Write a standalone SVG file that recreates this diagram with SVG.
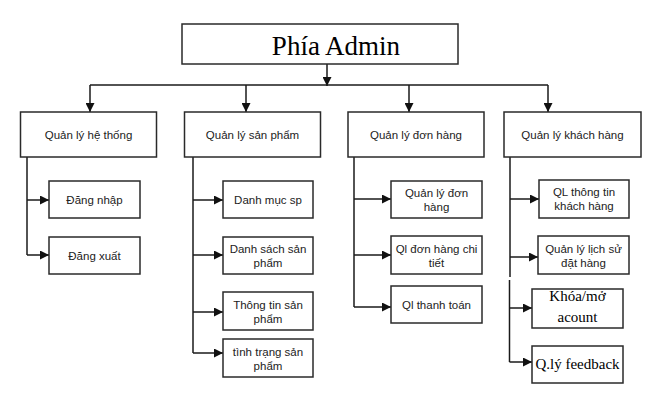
<svg xmlns="http://www.w3.org/2000/svg" width="666" height="417" viewBox="0 0 666 417">
<defs>
<marker id="ah" markerUnits="userSpaceOnUse" markerWidth="9" markerHeight="9" refX="9" refY="4.5" orient="auto">
<path d="M0,0 L9,4.5 L0,9 z" fill="#111"/>
</marker>
<style>
.box{fill:#fff;stroke:#2a2a2a;stroke-width:1.5}
.ln{fill:none;stroke:#1a1a1a;stroke-width:1.5}
.ar{fill:none;stroke:#1a1a1a;stroke-width:1.5;marker-end:url(#ah)}
.s{font-family:"Liberation Sans",Arial,sans-serif;font-size:11.5px;fill:#222;text-anchor:middle}
.t{font-family:"Liberation Serif","Times New Roman",serif;fill:#000;text-anchor:middle}
</style>
</defs>
<rect width="666" height="417" fill="#fff"/>
<g id="connectors">
<line class="ar" x1="327" y1="64" x2="327" y2="86"/>
<line class="ln" x1="90" y1="85" x2="548" y2="85"/>
<line class="ar" x1="90" y1="85" x2="90" y2="112"/>
<line class="ar" x1="246" y1="85" x2="246" y2="112"/>
<line class="ar" x1="409" y1="85" x2="409" y2="112"/>
<line class="ar" x1="548" y1="85" x2="548" y2="112"/>
<line class="ln" x1="27" y1="157" x2="27" y2="255"/>
<line class="ar" x1="27" y1="200" x2="49" y2="200"/>
<line class="ar" x1="27" y1="255" x2="49" y2="255"/>
<line class="ln" x1="193" y1="157" x2="193" y2="353"/>
<line class="ar" x1="193" y1="200" x2="223" y2="200"/>
<line class="ar" x1="193" y1="255" x2="223" y2="255"/>
<line class="ar" x1="193" y1="312" x2="223" y2="312"/>
<line class="ar" x1="193" y1="353" x2="223" y2="353"/>
<line class="ln" x1="354" y1="157" x2="354" y2="307"/>
<line class="ar" x1="354" y1="199" x2="391" y2="199"/>
<line class="ar" x1="354" y1="255" x2="391" y2="255"/>
<line class="ar" x1="354" y1="307" x2="391" y2="307"/>
<line class="ln" x1="510" y1="157" x2="510" y2="277"/>
<line class="ln" x1="509.5" y1="280" x2="509.5" y2="362"/>
<line class="ar" x1="510" y1="199" x2="539" y2="199"/>
<line class="ar" x1="510" y1="257" x2="538" y2="257"/>
<line class="ar" x1="509.5" y1="308" x2="532" y2="308"/>
<line class="ar" x1="509.5" y1="362" x2="532" y2="362"/>
</g>
<g id="root"><rect class="box" x="182" y="24" width="276" height="40"/><text class="t" x="336" y="55" font-size="27">Phía Admin</text></g>
<g id="qlht"><rect class="box" x="20.5" y="112" width="136" height="45"/><text class="s" x="88.5" y="138.5">Quản lý hệ thống</text></g>
<g id="qlsp"><rect class="box" x="184.5" y="112" width="136" height="45"/><text class="s" x="252.5" y="138.5">Quản lý sản phẩm</text></g>
<g id="qldh"><rect class="box" x="348" y="112" width="136" height="45"/><text class="s" x="416" y="138.5">Quản lý đơn hàng</text></g>
<g id="qlkh"><rect class="box" x="504" y="112" width="137" height="45"/><text class="s" x="572.5" y="138.5">Quản lý khách hàng</text></g>
<g id="dangnhap"><rect class="box" x="49" y="181" width="91" height="37"/><text class="s" x="94.5" y="204">Đăng nhập</text></g>
<g id="dangxuat"><rect class="box" x="49" y="237" width="91" height="37"/><text class="s" x="94.5" y="259.5">Đăng xuất</text></g>
<g id="danhmuc"><rect class="box" x="223" y="181" width="90" height="37"/><text class="s" x="268" y="204">Danh mục sp</text></g>
<g id="danhsach"><rect class="box" x="223" y="237" width="90" height="37"/><text class="s" x="268" y="253">Danh sách sản</text><text class="s" x="268" y="267">phẩm</text></g>
<g id="thongtin"><rect class="box" x="223" y="292" width="90" height="38"/><text class="s" x="268" y="309">Thông tin sản</text><text class="s" x="268" y="323">phẩm</text></g>
<g id="tinhtrang"><rect class="box" x="223" y="339" width="90" height="38"/><text class="s" x="268" y="356">tình trạng sản</text><text class="s" x="268" y="370">phẩm</text></g>
<g id="qldonhang"><rect class="box" x="391" y="181" width="91" height="37"/><text class="s" x="436.5" y="197">Quản lý đơn</text><text class="s" x="436.5" y="211">hàng</text></g>
<g id="qlchitiet"><rect class="box" x="391" y="236" width="91" height="38"/><text class="s" x="436.5" y="253">Ql đơn hàng chi</text><text class="s" x="436.5" y="267">tiết</text></g>
<g id="qlthanhtoan"><rect class="box" x="391" y="286" width="91" height="37"/><text class="s" x="436.5" y="309">Ql thanh toán</text></g>
<g id="qlthongtin"><rect class="box" x="539" y="180" width="90" height="38"/><text class="s" x="584" y="196">QL thông tin</text><text class="s" x="584" y="210">khách hàng</text></g>
<g id="qllichsu"><rect class="box" x="538" y="236" width="91" height="38"/><text class="s" x="583.5" y="253">Quản lý lịch sử</text><text class="s" x="583.5" y="267">đặt hàng</text></g>
<g id="khoamo"><rect class="box" x="532" y="289" width="91" height="39"/><text class="t" x="577.5" y="301" font-size="15">Khóa/mở</text><text class="t" x="577.5" y="322" font-size="15">acount</text></g>
<g id="feedback"><rect class="box" x="532" y="346" width="91" height="37"/><text class="t" x="577.5" y="369" font-size="15">Q.lý feedback</text></g>
</svg>
